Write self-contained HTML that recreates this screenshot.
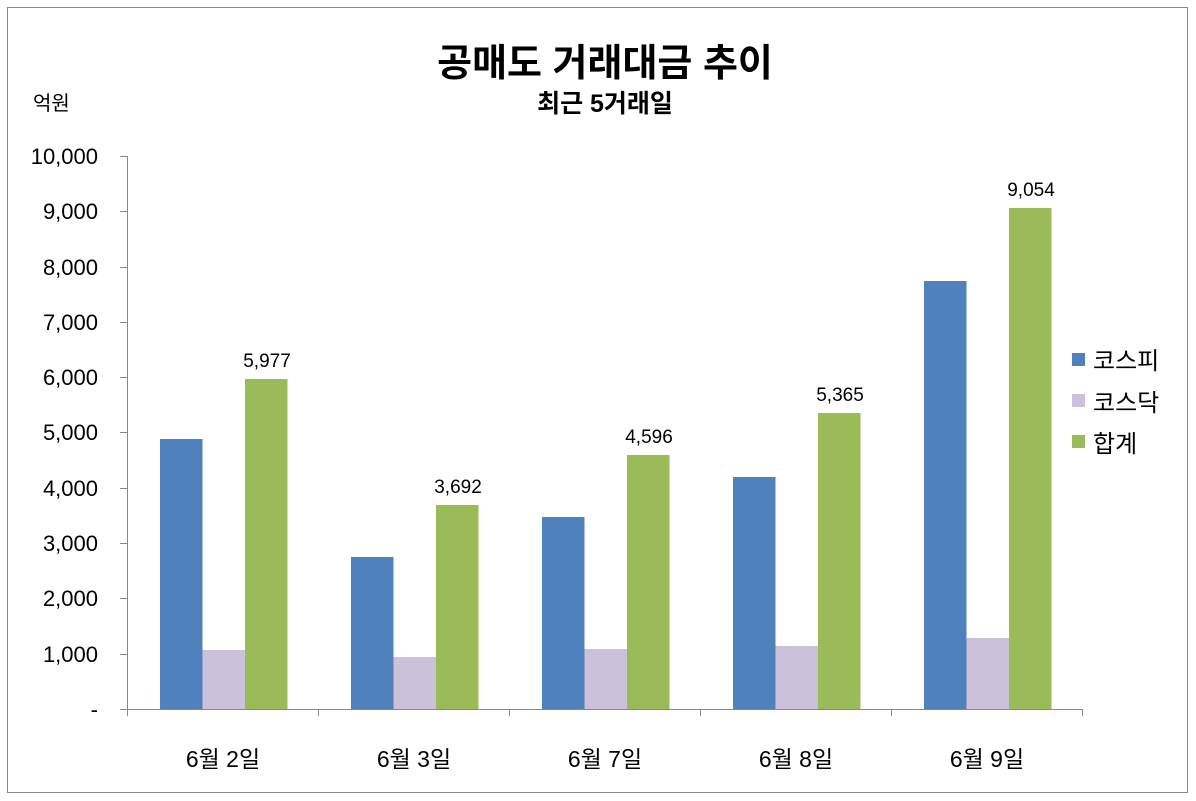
<!DOCTYPE html>
<html><head><meta charset="utf-8"><style>
body{margin:0;background:#fff;}
svg{display:block;font-family:"Liberation Sans","Noto Sans CJK KR","NanumGothic",sans-serif;}
</style></head><body>
<svg width="1196" height="801" viewBox="0 0 1196 801">
<rect x="0" y="0" width="1196" height="801" fill="#fff"/>
<rect x="7.5" y="7.5" width="1180" height="785" fill="none" stroke="#888" stroke-width="1"/>
<text x="605" y="76" text-anchor="middle" font-size="38" font-weight="bold">공매도 거래대금 추이</text>
<text x="605" y="112" text-anchor="middle" font-size="25" font-weight="bold">최근 5거래일</text>
<text x="33" y="110" font-size="20">억원</text>
<g stroke="#888" stroke-width="1" fill="none">
<line x1="127.5" y1="156" x2="127.5" y2="709"/>
<line x1="127" y1="709.5" x2="1082" y2="709.5"/>
<line x1="120" y1="156.5" x2="127" y2="156.5"/><line x1="120" y1="211.5" x2="127" y2="211.5"/>
<line x1="120" y1="267.5" x2="127" y2="267.5"/><line x1="120" y1="322.5" x2="127" y2="322.5"/>
<line x1="120" y1="377.5" x2="127" y2="377.5"/><line x1="120" y1="432.5" x2="127" y2="432.5"/>
<line x1="120" y1="488.5" x2="127" y2="488.5"/><line x1="120" y1="543.5" x2="127" y2="543.5"/>
<line x1="120" y1="598.5" x2="127" y2="598.5"/><line x1="120" y1="654.5" x2="127" y2="654.5"/>
<line x1="120" y1="709.5" x2="127" y2="709.5"/>
<line x1="318.5" y1="709" x2="318.5" y2="716"/><line x1="509.5" y1="709" x2="509.5" y2="716"/>
<line x1="700.5" y1="709" x2="700.5" y2="716"/><line x1="891.5" y1="709" x2="891.5" y2="716"/>
<line x1="1082.5" y1="709" x2="1082.5" y2="716"/><line x1="127.5" y1="709" x2="127.5" y2="716"/>
</g>
<g font-size="22" text-anchor="end">
<text x="98" y="164">10,000</text><text x="98" y="219">9,000</text><text x="98" y="275">8,000</text>
<text x="98" y="330">7,000</text><text x="98" y="385">6,000</text><text x="98" y="440">5,000</text>
<text x="98" y="496">4,000</text><text x="98" y="551">3,000</text><text x="98" y="606">2,000</text>
<text x="98" y="662">1,000</text><text x="98" y="717">-</text>
</g>
<g>
<rect x="160" y="439" width="42.5" height="270" fill="#4f81bd"/>
<rect x="202.5" y="650" width="42.5" height="59" fill="#ccc1da"/>
<rect x="245" y="379" width="42.5" height="330" fill="#9bbb59"/>
<rect x="351" y="557" width="42.5" height="152" fill="#4f81bd"/>
<rect x="393.5" y="657" width="42.5" height="52" fill="#ccc1da"/>
<rect x="436" y="505" width="42.5" height="204" fill="#9bbb59"/>
<rect x="542" y="517" width="42.5" height="192" fill="#4f81bd"/>
<rect x="584.5" y="649" width="42.5" height="60" fill="#ccc1da"/>
<rect x="627" y="455" width="42.5" height="254" fill="#9bbb59"/>
<rect x="733" y="477" width="42.5" height="232" fill="#4f81bd"/>
<rect x="775.5" y="646" width="42.5" height="63" fill="#ccc1da"/>
<rect x="818" y="413" width="42.5" height="296" fill="#9bbb59"/>
<rect x="924" y="281" width="42.5" height="428" fill="#4f81bd"/>
<rect x="966.5" y="638" width="42.5" height="71" fill="#ccc1da"/>
<rect x="1009" y="208" width="42.5" height="501" fill="#9bbb59"/>
</g>
<g font-size="19" text-anchor="middle">
<text x="267" y="367">5,977</text><text x="458" y="493">3,692</text><text x="649" y="443">4,596</text>
<text x="840" y="401">5,365</text><text x="1031" y="196">9,054</text>
</g>
<g font-size="23" text-anchor="middle">
<text x="223" y="767">6월 2일</text><text x="414" y="767">6월 3일</text><text x="605" y="767">6월 7일</text>
<text x="796" y="767">6월 8일</text><text x="987" y="767">6월 9일</text>
</g>
<rect x="1072" y="353" width="13" height="13" fill="#4f81bd"/>
<rect x="1072" y="394" width="13" height="13" fill="#ccc1da"/>
<rect x="1072" y="435" width="13" height="13" fill="#9bbb59"/>
<g font-size="24">
<text x="1093" y="369">코스피</text><text x="1093" y="411">코스닥</text><text x="1093" y="452">합계</text>
</g>
</svg>
</body></html>
